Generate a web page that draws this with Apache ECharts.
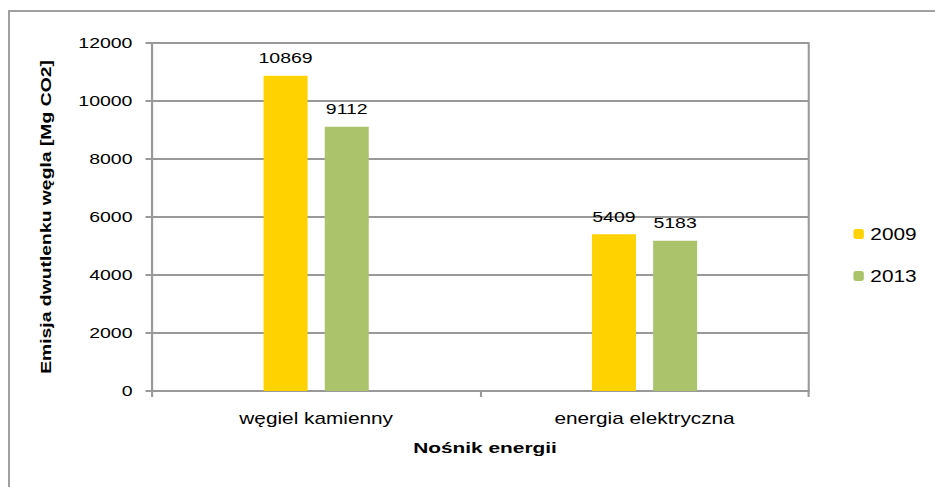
<!DOCTYPE html>
<html>
<head>
<meta charset="utf-8">
<script src="https://cdn.jsdelivr.net/npm/echarts@6/dist/echarts.min.js"></script>
<style>
html,body{margin:0;padding:0;background:#fff;overflow:hidden;}
#frame{position:absolute;left:8px;top:10px;width:940px;height:490px;border-top:2px solid #a0a0a0;border-left:2px solid #a0a0a0;box-sizing:border-box;}
#chart{position:absolute;left:0;top:0;width:719px;height:487px;transform:scaleX(1.3);transform-origin:0 0;}
</style>
</head>
<body>
<div id="frame"></div>
<div id="chart"></div>
<script>
var categories = ['węgiel kamienny', 'energia elektryczna'];
var seriesNames = ['2009', '2013'];
var values2009 = [10869, 5409];
var values2013 = [9112, 5183];
var yTicks = [0, 2000, 4000, 6000, 8000, 10000, 12000];
var xTitle = 'Nośnik energii';
var yTitle = 'Emisja dwutlenku węgla [Mg CO2]';

var S = 1.3; // horizontal text stretch of the reference
var FONT = '"Liberation Sans", Arial, sans-serif';
var chart = echarts.init(document.getElementById('chart'), null, {renderer: 'svg'});
var labelStyle = {show: true, position: 'top', distance: 10, color: '#000', fontSize: 15, fontFamily: FONT};
chart.setOption({
  animation: false,
  grid: {left: 116.9, right: 96.9, top: 43, bottom: 96, show: true, borderColor: '#999', borderWidth: 1.6, backgroundColor: 'transparent'},
  legend: {
    orient: 'vertical', left: 651.5, top: 221,
    itemWidth: 8, itemHeight: 10, itemGap: 26,
    textStyle: {fontSize: 16, fontFamily: FONT, color: '#000', lineHeight: 16},
    data: seriesNames
  },
  graphic: [
    {type: 'text', x: 485 / S, y: 448, scaleX: 1.07, silent: true,
     style: {text: xTitle, font: 'bold 15px ' + FONT, fill: '#000', align: 'center', verticalAlign: 'middle', textAlign: 'center', textVerticalAlign: 'middle'}},
    {type: 'text', x: 46 / S, y: 217, rotation: Math.PI / 2, scaleX: 1.29, scaleY: 1 / S, silent: true,
     style: {text: yTitle, font: 'bold 15px ' + FONT, fill: '#000', align: 'center', verticalAlign: 'middle', textAlign: 'center', textVerticalAlign: 'middle'}}
  ],
  xAxis: {
    type: 'category', data: categories,
    axisLine: {lineStyle: {color: '#999', width: 2}},
    axisTick: {show: true, length: 6, lineStyle: {color: '#999', width: 1.6}},
    axisLabel: {fontSize: 16, fontFamily: FONT, color: '#000', margin: 19}
  },
  yAxis: {
    type: 'value', min: yTicks[0], max: yTicks[yTicks.length - 1], interval: yTicks[1] - yTicks[0],
    axisLine: {show: true, lineStyle: {color: '#999', width: 1.6}},
    axisTick: {show: true, length: 5, lineStyle: {color: '#999', width: 2}},
    axisLabel: {fontSize: 15, fontFamily: FONT, color: '#000', margin: 15, formatter: function (v) { return String(v); }},
    splitLine: {lineStyle: {color: '#999', width: 2}}
  },
  series: [
    {name: seriesNames[0], type: 'bar', data: values2009, barWidth: '13.4%', barGap: '39%', itemStyle: {color: '#FFD200'}, label: labelStyle},
    {name: seriesNames[1], type: 'bar', data: values2013, barWidth: '13.4%', barGap: '39%', itemStyle: {color: '#ABC46C'}, label: labelStyle}
  ]
});
</script>
</body>
</html>
